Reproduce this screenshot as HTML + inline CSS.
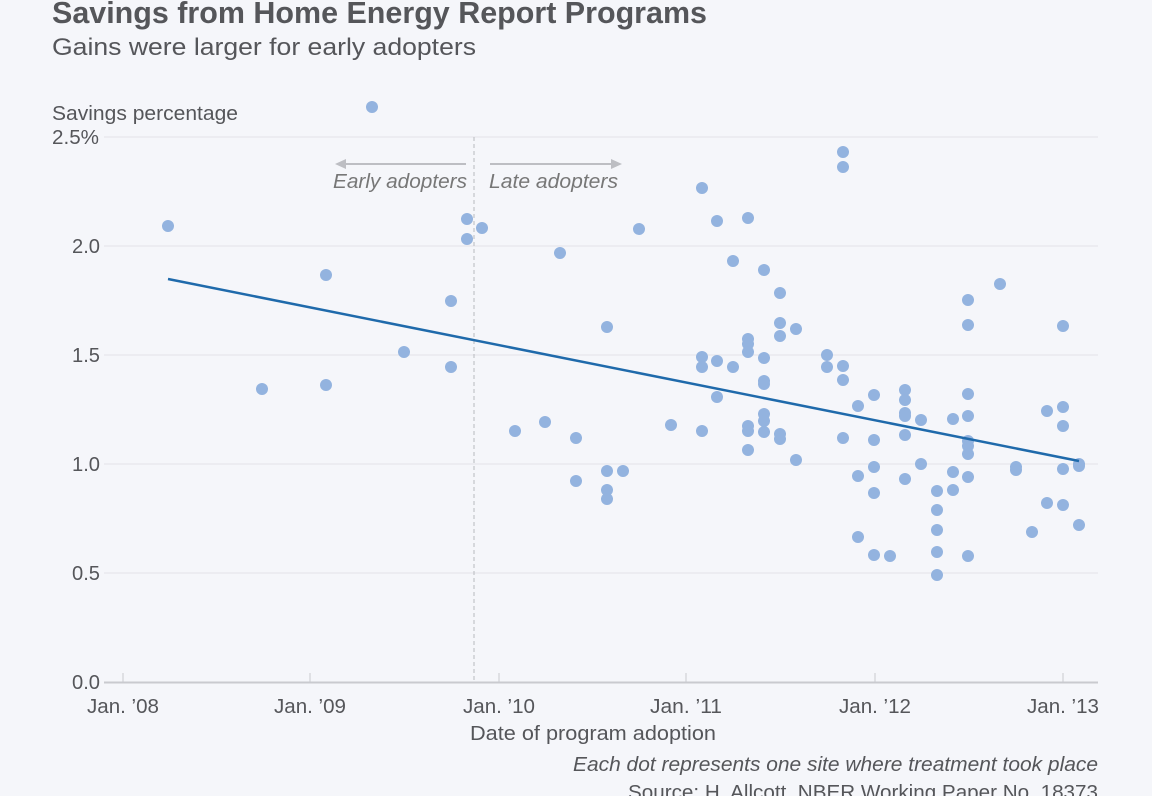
<!DOCTYPE html>
<html><head><meta charset="utf-8"><style>
html,body{margin:0;padding:0;background:#f5f6fa;}
svg{display:block;font-family:"Liberation Sans",sans-serif;}
</style></head><body>
<svg width="1152" height="796" viewBox="0 0 1152 796" xmlns="http://www.w3.org/2000/svg">
<rect width="1152" height="796" fill="#f5f6fa"/>
<text x="52" y="23" font-size="31" font-weight="bold" fill="#55565a" textLength="655" lengthAdjust="spacingAndGlyphs">Savings from Home Energy Report Programs</text>
<text x="52" y="55" font-size="24" fill="#55565a" textLength="424" lengthAdjust="spacingAndGlyphs">Gains were larger for early adopters</text>
<text x="52" y="120" font-size="20" fill="#55565a" textLength="186" lengthAdjust="spacingAndGlyphs">Savings percentage</text>
<g stroke="#e2e3e8" stroke-width="1">
<line x1="104" y1="137" x2="1098" y2="137"/>
<line x1="104" y1="246" x2="1098" y2="246"/>
<line x1="104" y1="355" x2="1098" y2="355"/>
<line x1="104" y1="464" x2="1098" y2="464"/>
<line x1="104" y1="573" x2="1098" y2="573"/>
</g>
<line x1="104" y1="682.5" x2="1098" y2="682.5" stroke="#c9cacf" stroke-width="2"/>
<g stroke="#c9cacf" stroke-width="1">
<line x1="123" y1="673" x2="123" y2="682"/><line x1="310" y1="673" x2="310" y2="682"/>
<line x1="499" y1="673" x2="499" y2="682"/><line x1="686" y1="673" x2="686" y2="682"/>
<line x1="875" y1="673" x2="875" y2="682"/><line x1="1063" y1="673" x2="1063" y2="682"/>
</g>
<g font-size="20" fill="#55565a">
<text x="52" y="144" textLength="47" lengthAdjust="spacingAndGlyphs">2.5%</text>
<text x="72" y="253" textLength="28" lengthAdjust="spacingAndGlyphs">2.0</text>
<text x="72" y="362" textLength="28" lengthAdjust="spacingAndGlyphs">1.5</text>
<text x="72" y="471" textLength="28" lengthAdjust="spacingAndGlyphs">1.0</text>
<text x="72" y="580" textLength="28" lengthAdjust="spacingAndGlyphs">0.5</text>
<text x="72" y="689" textLength="28" lengthAdjust="spacingAndGlyphs">0.0</text>
</g>
<g font-size="20" fill="#55565a" text-anchor="middle">
<text x="123" y="713" textLength="72" lengthAdjust="spacingAndGlyphs">Jan. ’08</text><text x="310" y="713" textLength="72" lengthAdjust="spacingAndGlyphs">Jan. ’09</text>
<text x="499" y="713" textLength="72" lengthAdjust="spacingAndGlyphs">Jan. ’10</text><text x="686" y="713" textLength="72" lengthAdjust="spacingAndGlyphs">Jan. ’11</text>
<text x="875" y="713" textLength="72" lengthAdjust="spacingAndGlyphs">Jan. ’12</text><text x="1063" y="713" textLength="72" lengthAdjust="spacingAndGlyphs">Jan. ’13</text>
<text x="593" y="740" font-size="20" textLength="246" lengthAdjust="spacingAndGlyphs">Date of program adoption</text>
</g>
<text x="1098" y="771" font-size="20" font-style="italic" fill="#55565a" text-anchor="end" textLength="525" lengthAdjust="spacingAndGlyphs">Each dot represents one site where treatment took place</text>
<text x="1098" y="799" font-size="20" fill="#55565a" text-anchor="end" textLength="470" lengthAdjust="spacingAndGlyphs">Source: H. Allcott, NBER Working Paper No. 18373</text>
<line x1="474" y1="137" x2="474" y2="682" stroke="#b8b9be" stroke-width="1" stroke-dasharray="4,3"/>
<g stroke="#bdbec3" stroke-width="2" fill="#bdbec3">
<line x1="344" y1="164" x2="466" y2="164"/><polygon points="335,164 346,159 346,169" stroke="none"/>
<line x1="490" y1="164" x2="612" y2="164"/><polygon points="622,164 611,159 611,169" stroke="none"/>
</g>
<text x="333" y="188" font-size="20" font-style="italic" fill="#777" textLength="134" lengthAdjust="spacingAndGlyphs">Early adopters</text>
<text x="489" y="188" font-size="20" font-style="italic" fill="#777" textLength="129" lengthAdjust="spacingAndGlyphs">Late adopters</text>
<g fill="#93b3df">
<circle cx="168" cy="226" r="6"/><circle cx="262" cy="389" r="6"/><circle cx="326" cy="275" r="6"/><circle cx="326" cy="385" r="6"/><circle cx="372" cy="107" r="6"/><circle cx="404" cy="352" r="6"/><circle cx="451" cy="301" r="6"/><circle cx="451" cy="367" r="6"/><circle cx="467" cy="219" r="6"/><circle cx="467" cy="239" r="6"/><circle cx="482" cy="228" r="6"/><circle cx="515" cy="431" r="6"/><circle cx="545" cy="422" r="6"/><circle cx="560" cy="253" r="6"/><circle cx="576" cy="438" r="6"/><circle cx="576" cy="481" r="6"/><circle cx="607" cy="327" r="6"/><circle cx="607" cy="471" r="6"/><circle cx="607" cy="490" r="6"/><circle cx="607" cy="499" r="6"/><circle cx="623" cy="471" r="6"/><circle cx="639" cy="229" r="6"/><circle cx="671" cy="425" r="6"/><circle cx="702" cy="188" r="6"/><circle cx="702" cy="357" r="6"/><circle cx="702" cy="367" r="6"/><circle cx="702" cy="431" r="6"/><circle cx="717" cy="221" r="6"/><circle cx="717" cy="361" r="6"/><circle cx="717" cy="397" r="6"/><circle cx="733" cy="261" r="6"/><circle cx="733" cy="367" r="6"/><circle cx="748" cy="218" r="6"/><circle cx="748" cy="339" r="6"/><circle cx="748" cy="344" r="6"/><circle cx="748" cy="352" r="6"/><circle cx="748" cy="426" r="6"/><circle cx="748" cy="431" r="6"/><circle cx="748" cy="450" r="6"/><circle cx="764" cy="270" r="6"/><circle cx="764" cy="358" r="6"/><circle cx="764" cy="381" r="6"/><circle cx="764" cy="384" r="6"/><circle cx="764" cy="414" r="6"/><circle cx="764" cy="421" r="6"/><circle cx="764" cy="432" r="6"/><circle cx="780" cy="293" r="6"/><circle cx="780" cy="323" r="6"/><circle cx="780" cy="336" r="6"/><circle cx="780" cy="434" r="6"/><circle cx="780" cy="439" r="6"/><circle cx="796" cy="329" r="6"/><circle cx="796" cy="460" r="6"/><circle cx="827" cy="355" r="6"/><circle cx="827" cy="367" r="6"/><circle cx="843" cy="152" r="6"/><circle cx="843" cy="167" r="6"/><circle cx="843" cy="366" r="6"/><circle cx="843" cy="380" r="6"/><circle cx="843" cy="438" r="6"/><circle cx="858" cy="406" r="6"/><circle cx="858" cy="476" r="6"/><circle cx="858" cy="537" r="6"/><circle cx="874" cy="395" r="6"/><circle cx="874" cy="440" r="6"/><circle cx="874" cy="467" r="6"/><circle cx="874" cy="493" r="6"/><circle cx="874" cy="555" r="6"/><circle cx="890" cy="556" r="6"/><circle cx="905" cy="390" r="6"/><circle cx="905" cy="400" r="6"/><circle cx="905" cy="413" r="6"/><circle cx="905" cy="416" r="6"/><circle cx="905" cy="435" r="6"/><circle cx="905" cy="479" r="6"/><circle cx="921" cy="420" r="6"/><circle cx="921" cy="464" r="6"/><circle cx="937" cy="491" r="6"/><circle cx="937" cy="510" r="6"/><circle cx="937" cy="530" r="6"/><circle cx="937" cy="552" r="6"/><circle cx="937" cy="575" r="6"/><circle cx="953" cy="419" r="6"/><circle cx="953" cy="472" r="6"/><circle cx="953" cy="490" r="6"/><circle cx="968" cy="300" r="6"/><circle cx="968" cy="325" r="6"/><circle cx="968" cy="394" r="6"/><circle cx="968" cy="416" r="6"/><circle cx="968" cy="441" r="6"/><circle cx="968" cy="446" r="6"/><circle cx="968" cy="454" r="6"/><circle cx="968" cy="477" r="6"/><circle cx="968" cy="556" r="6"/><circle cx="1000" cy="284" r="6"/><circle cx="1016" cy="467" r="6"/><circle cx="1016" cy="470" r="6"/><circle cx="1032" cy="532" r="6"/><circle cx="1047" cy="411" r="6"/><circle cx="1047" cy="503" r="6"/><circle cx="1063" cy="326" r="6"/><circle cx="1063" cy="407" r="6"/><circle cx="1063" cy="426" r="6"/><circle cx="1063" cy="469" r="6"/><circle cx="1063" cy="505" r="6"/><circle cx="1079" cy="464" r="6"/><circle cx="1079" cy="466" r="6"/><circle cx="1079" cy="525" r="6"/>
</g>
<line x1="168" y1="279" x2="1079" y2="461" stroke="#1f6aab" stroke-width="2.5"/>
</svg>
</body></html>
